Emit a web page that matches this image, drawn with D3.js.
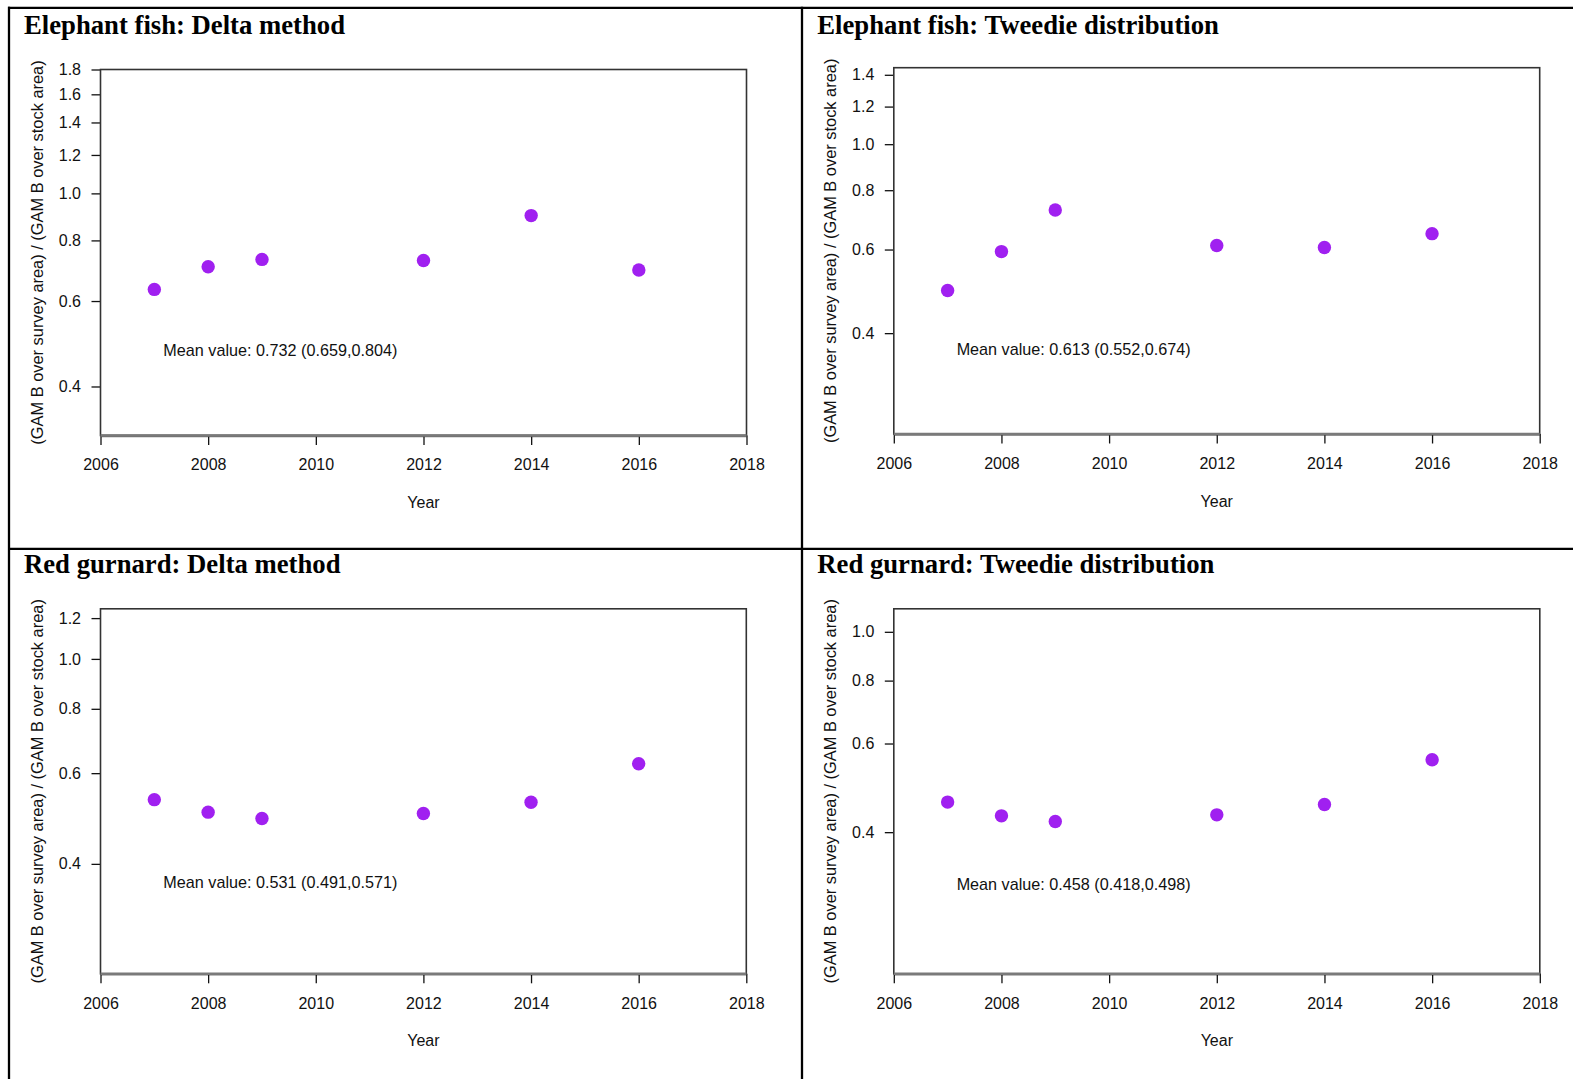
<!DOCTYPE html>
<html>
<head>
<meta charset="utf-8">
<script src="https://cdn.jsdelivr.net/npm/d3@7"></script>
<style>
  html, body { margin: 0; padding: 0; background: #fff; }
  svg { display: block; }
</style>
</head>
<body>
<script>
// ---- data ----
const years = [2007, 2008, 2009, 2012, 2014, 2016];
const elephantDelta   = [0.634, 0.706, 0.731, 0.727, 0.900, 0.695];
const elephantTweedie = [0.492, 0.594, 0.727, 0.612, 0.606, 0.648];
const gurnardDelta    = [0.533, 0.504, 0.490, 0.501, 0.527, 0.626];
const gurnardTweedie  = [0.459, 0.431, 0.420, 0.433, 0.454, 0.557];

const titles = [
  "Elephant fish: Delta method",
  "Elephant fish: Tweedie distribution",
  "Red gurnard: Delta method",
  "Red gurnard: Tweedie distribution"
];
const meanLabels = [
  "Mean value: 0.732 (0.659,0.804)",
  "Mean value: 0.613 (0.552,0.674)",
  "Mean value: 0.531 (0.491,0.571)",
  "Mean value: 0.458 (0.418,0.498)"
];
const xTicks = [2006, 2008, 2010, 2012, 2014, 2016, 2018];
const yTicks1 = [0.4, 0.6, 0.8, 1.0, 1.2, 1.4, 1.6, 1.8];
const yTicks2 = [0.4, 0.6, 0.8, 1.0, 1.2, 1.4];
const yTicks3 = [0.4, 0.6, 0.8, 1.0, 1.2];
const yTicks4 = [0.4, 0.6, 0.8, 1.0];
const yLimits = [[0.317, 1.80], [0.2453, 1.449], [0.2447, 1.251], [0.2093, 1.111]];
const xLabel = "Year";
const yLabel = "(GAM B over survey area) / (GAM B over stock area)";

const seriesList = [elephantDelta, elephantTweedie, gurnardDelta, gurnardTweedie];
const yTickList = [yTicks1, yTicks2, yTicks3, yTicks4];

// ---- layout ----
const W = 1573, H = 1079;
const plotRects = [
  {L: 100.5, R: 746.5, T: 69.5, B: 435.5},
  {L: 893.8, R: 1539.7, T: 67.7, B: 434.0},
  {L: 100.5, R: 746.3, T: 608.8, B: 973.8},
  {L: 893.8, R: 1539.8, T: 608.8, B: 973.8}
];
const titleBaselines = [34.2, 573.4];
const SANS = "'Liberation Sans', Arial, Helvetica, sans-serif";
const SERIF = "'Liberation Serif', 'Times New Roman', Times, serif";
const FS = 16;

const svg = d3.select("body").append("svg")
  .attr("width", W).attr("height", H);

svg.append("rect").attr("width", W).attr("height", H).attr("fill", "#fff");

// panel frame lines
const frame = svg.append("g").attr("stroke", "#000").attr("stroke-width", 2.3);
frame.append("line").attr("x1", 8).attr("x2", W).attr("y1", 7.8).attr("y2", 7.8);
frame.append("line").attr("x1", 9).attr("x2", 9).attr("y1", 6.7).attr("y2", H);
frame.append("line").attr("x1", 802).attr("x2", 802).attr("y1", 6.7).attr("y2", H);
frame.append("line").attr("x1", 9).attr("x2", W).attr("y1", 548.8).attr("y2", 548.8);

seriesList.forEach((vals, i) => {
  const r = plotRects[i];
  const g = svg.append("g");
  const x = d3.scaleLinear().domain([2006, 2018]).range([r.L, r.R]);
  const y = d3.scaleLog().domain(yLimits[i]).range([r.B, r.T]);

  // title
  g.append("text")
    .attr("x", r.L - 76.5).attr("y", titleBaselines[Math.floor(i / 2)])
    .attr("font-family", SERIF).attr("font-weight", "bold")
    .attr("font-size", 26.7).attr("fill", "#000")
    .text(titles[i]);

  // x axis
  const xa = g.append("g").attr("transform", `translate(0,${r.B})`)
    .call(d3.axisBottom(x).tickValues(xTicks).tickFormat(d3.format("d"))
      .tickSizeInner(9.5).tickSizeOuter(0).tickPadding(14));
  xa.select(".domain").attr("stroke", "#7a7a7a").attr("stroke-width", 2.4);
  xa.selectAll(".tick line").attr("stroke", "#111").attr("stroke-width", 1.3);
  xa.selectAll(".tick text").attr("font-family", SANS).attr("font-size", FS).attr("fill", "#111");

  // y axis
  const ya = g.append("g").attr("transform", `translate(${r.L},0)`)
    .call(d3.axisLeft(y).tickValues(yTickList[i]).tickFormat(d3.format(".1f"))
      .tickSizeInner(9).tickSizeOuter(0).tickPadding(10.5));
  ya.select(".domain").remove();
  ya.selectAll(".tick line").attr("stroke", "#111").attr("stroke-width", 1.3);
  ya.selectAll(".tick text").attr("font-family", SANS).attr("font-size", FS).attr("fill", "#111");

  // box
  g.append("rect")
    .attr("x", r.L).attr("y", r.T).attr("width", r.R - r.L).attr("height", r.B - r.T)
    .attr("fill", "none").attr("stroke", "#333").attr("stroke-width", 1.6);
  g.append("line")
    .attr("x1", r.L).attr("x2", r.R).attr("y1", r.B).attr("y2", r.B)
    .attr("stroke", "#7a7a7a").attr("stroke-width", 2.4);

  // axis labels
  g.append("text")
    .attr("x", (r.L + r.R) / 2).attr("y", r.B + 72.5)
    .attr("text-anchor", "middle")
    .attr("font-family", SANS).attr("font-size", FS).attr("fill", "#111")
    .text(xLabel);
  g.append("text")
    .attr("transform", `translate(${r.L - 58},${(r.T + r.B) / 2}) rotate(-90)`)
    .attr("text-anchor", "middle")
    .attr("font-family", SANS).attr("font-size", 16.4).attr("fill", "#111")
    .text(yLabel);

  // points
  g.selectAll("circle").data(years.map((yr, k) => ({yr, v: vals[k]})))
    .join("circle")
    .attr("cx", d => x(d.yr)).attr("cy", d => y(d.v))
    .attr("r", 6.7).attr("fill", "#A020F0");

  // mean label
  g.append("text")
    .attr("x", x(d3.min(years)) + 9).attr("y", y(0.75 * d3.min(vals)))
    .attr("dy", "0.35em")
    .attr("font-family", SANS).attr("font-size", 16.2).attr("fill", "#111")
    .text(meanLabels[i]);
});
</script>
</body>
</html>
